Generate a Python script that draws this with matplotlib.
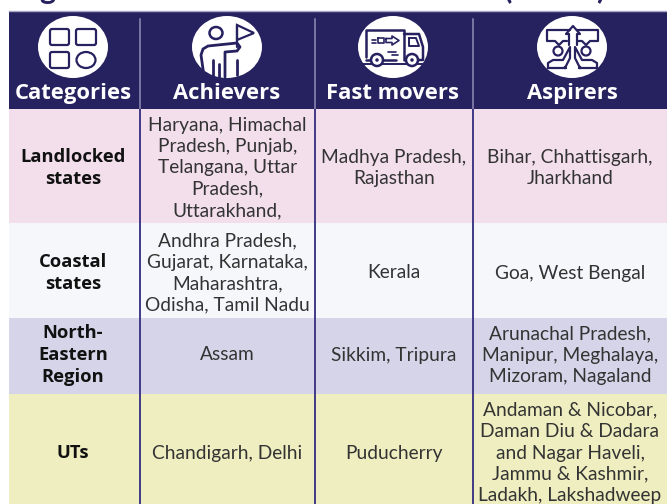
import matplotlib
matplotlib.use('Agg')
from matplotlib import pyplot as plt
from matplotlib.patches import Ellipse, FancyBboxPatch, Polygon, Rectangle

columns = ['Categories', 'Achievers', 'Fast movers', 'Aspirers']
categories = ['Landlocked\nstates', 'Coastal\nstates', 'North-\nEastern\nRegion', 'UTs']
achievers = ['Haryana, Himachal\nPradesh, Punjab,\nTelangana, Uttar\nPradesh,\nUttarakhand,',
             'Andhra Pradesh,\nGujarat, Karnataka,\nMaharashtra,\nOdisha, Tamil Nadu',
             'Assam',
             'Chandigarh, Delhi']
fast_movers = ['Madhya Pradesh,\nRajasthan', 'Kerala', 'Sikkim, Tripura', 'Puducherry']
aspirers = ['Bihar, Chhattisgarh,\nJharkhand',
            'Goa, West Bengal',
            'Arunachal Pradesh,\nManipur, Meghalaya,\nMizoram, Nagaland',
            'Andaman & Nicobar,\nDaman Diu & Dadara\nand Nagar Haveli,\nJammu & Kashmir,\nLadakh, Lakshadweep']

NAVY = '#26215f'
LINE = '#3f3a85'
row_colors = ['#f3dfec', '#f5f7fa', '#d5d4e8', '#efeec0']
row_edges = [109, 223, 318, 394, 504]
row_text_y = [168, 273, 355, 453]
col_edges = [9, 139.5, 315, 473, 667]
icon_x = [73, 227, 393, 572]

fig = plt.figure(figsize=(6.67, 5.04), dpi=100)
ax = fig.add_axes([0, 0, 1, 1])
ax.set_xlim(0, 667)
ax.set_ylim(504, 0)
ax.axis('off')

# bits of the cropped title
for x, s in zip([47, 508, 600], ['g', '(', ')']):
    ax.text(x, -1.5, s, fontsize=22, fontweight='bold', family='Lato', ha='center', va='baseline',
            color=NAVY, clip_on=True)

# header
ax.add_patch(Rectangle((col_edges[0], 11), 667 - col_edges[0], row_edges[0] - 11, fc=NAVY, ec='none'))
ax.plot([col_edges[0], 667], [11, 11], color='#a9a7c6', lw=1)
for x in col_edges[1:4]:
    ax.plot([x, x], [19, row_edges[0]], color='#8f8db5', lw=1.1)
for x in icon_x:
    ax.add_patch(Ellipse((x, 47), 70, 62, fc='white', ec='none', zorder=2))
for x, name in zip(icon_x, columns):
    ax.text(x, 93.5, name, color='white', fontsize=15.8, fontweight='bold', family='Open Sans',
            ha='center', va='center')


def stroke(xs, ys, lw=1.5):
    ax.plot(xs, ys, color=NAVY, lw=lw, zorder=3, solid_capstyle='round', solid_joinstyle='round')


def box(x, y, w, h):
    ax.add_patch(FancyBboxPatch((x + 2, y + 2), w - 4, h - 4, boxstyle='round,pad=2', fc='none', ec=NAVY,
                                lw=1.6, zorder=3))


# categories icon
box(50, 29, 19, 16)
box(76, 29, 20, 16)
box(50, 52, 19, 16)
ax.add_patch(Ellipse((86, 60), 19, 16, fc='none', ec=NAVY, lw=1.6, zorder=3))

# achievers icon
ax.add_patch(Ellipse((216, 33), 13, 12, fc='none', ec=NAVY, lw=1.8, zorder=3))
ax.add_patch(Polygon([(237, 25), (254, 33), (237, 40)], closed=True, fc='none', ec=NAVY, lw=1.6, zorder=3))
stroke([237, 237], [25, 47], 1.6)
stroke([204, 201, 203, 208, 237, 240, 237, 225, 225], [76, 55, 49, 46, 43, 47, 51, 52, 77], 2)
stroke([213, 213], [60, 77], 2)
stroke([219, 219], [64, 77], 2)
stroke([237, 237], [60, 75], 2)

# fast movers icon
stroke([366, 366, 404, 404], [57, 30, 30, 60], 1.8)
stroke([366, 370], [60, 60], 1.8)
stroke([383, 396], [60, 60], 1.8)
stroke([404, 408, 419, 423, 423, 417], [34, 34, 34, 47, 60, 60], 1.8)
stroke([409, 409, 419, 416, 409], [38, 46, 46, 38, 38], 1.4)
stroke([372, 376], [40, 40], 1.2)
stroke([372, 376], [43, 43], 1.2)
stroke([378, 384, 384, 378, 378], [38, 38, 43, 43, 38], 1.2)
stroke([386, 392, 392, 399, 392, 392, 386, 386], [38.5, 38.5, 36, 40.5, 45, 42.5, 42.5, 38.5], 1.2)
stroke([388, 396], [52, 52], 1.2)
stroke([392, 398], [55, 55], 1.2)
stroke([363, 424], [64, 64], 1.4)
for wx in [377, 412]:
    ax.add_patch(Ellipse((wx, 60), 12, 12, fc='white', ec=NAVY, lw=1.8, zorder=4))
    ax.add_patch(Ellipse((wx, 60), 3.5, 3.5, fc=NAVY, ec='none', zorder=5))

# aspirers icon
stroke([570, 547, 547, 555, 559, 563, 567], [30, 30, 41, 41, 45, 41, 41], 1.6)
stroke([577, 598, 598, 590, 586, 582, 578], [30, 30, 41, 41, 45, 41, 41], 1.6)
stroke([569, 569, 566, 573, 580, 577, 577], [45, 34, 34, 26, 34, 34, 45], 1.6)
for hx in [558, 586]:
    ax.add_patch(Ellipse((hx, 51), 9, 9, fc='none', ec=NAVY, lw=1.6, zorder=3))
stroke([548, 548, 553, 563, 570, 570, 566, 564, 566], [68, 63, 60, 60, 47, 58, 66, 68, 68], 1.6)
stroke([597, 597, 592, 582, 575, 575, 579, 581, 579], [68, 63, 60, 60, 47, 58, 66, 68, 68], 1.6)
stroke([548, 566], [68, 68], 1.6)
stroke([597, 579], [68, 68], 1.6)

# rows
for r in range(4):
    top, bottom = row_edges[r], row_edges[r + 1]
    ax.add_patch(Rectangle((col_edges[0], top), 667 - col_edges[0], bottom - top, fc=row_colors[r], ec='none', zorder=1))
    cy = row_text_y[r]
    ax.text(73, cy, categories[r], color='#111111', fontsize=13.2, fontweight='bold', family='Open Sans',
            ha='center', va='center', linespacing=1.25, zorder=3)
    for col, values in zip([1, 2, 3], [achievers, fast_movers, aspirers]):
        cx = (col_edges[col] + col_edges[col + 1]) / 2
        ax.text(cx, cy, values[r], color='#333333', fontsize=13.8, family='Lato', ha='center', va='center',
                linespacing=1.31, zorder=3)

for x in col_edges[1:4]:
    ax.plot([x, x], [row_edges[0], 504], color=LINE, lw=1.4, zorder=2, solid_capstyle='butt')

fig.savefig('out.png', dpi=100)
